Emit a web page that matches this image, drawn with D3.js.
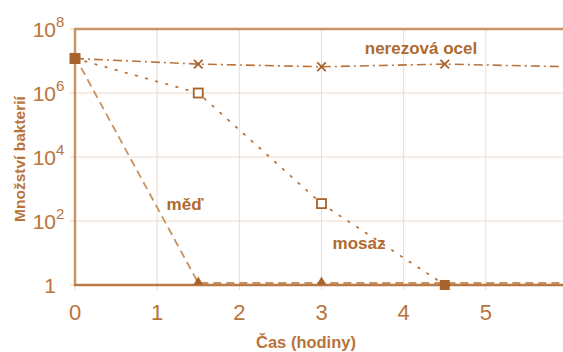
<!DOCTYPE html>
<html lang="cs">
<head>
<meta charset="UTF-8" />
<title>Množství bakterií v čase</title>
<script src="https://d3js.org/d3.v7.min.js"></script>
<style>
  body { margin: 0; background: #fff; }
  svg text { font-family: "Liberation Sans", Arial, sans-serif; }
</style>
</head>
<body>
<svg id="chart" width="563" height="352"></svg>
<script>
// data
const time = [0, 1.5, 3, 4.5, 6];
const ocel = [1.2e7, 8e6, 6.6e6, 8e6, 6.6e6];   // nerezová ocel
const mosaz = [1.2e7, 1e6, 350, 1, 1];
const med = [1.2e7, 1, 1, 1, 1];                // měď
const xTicks = [0, 1, 2, 3, 4, 5];
const yTicks = [1, 1e2, 1e4, 1e6, 1e8];
const yExp = ['', '2', '4', '6', '8'];

const brown = '#b8743a', axisC = '#c99466', gridC = '#eddac8', markC = '#a8622a';

const svg = d3.select('#chart');
const x = d3.scaleLinear().domain([0, 6]).range([75, 568]);
const y = d3.scaleLog().domain([1, 1e8]).range([285, 29]);

svg.append('clipPath').attr('id', 'clip')
  .append('rect').attr('x', 60).attr('y', 10).attr('width', 503).attr('height', 290);

// grid
svg.selectAll('.gx').data(xTicks.slice(1)).join('line')
  .attr('x1', d => x(d)).attr('x2', d => x(d)).attr('y1', 29).attr('y2', 290)
  .attr('stroke', gridC).attr('stroke-width', 1);
svg.selectAll('.gy').data(yTicks.slice(1, 4)).join('line')
  .attr('x1', 70).attr('x2', 563).attr('y1', d => y(d)).attr('y2', d => y(d))
  .attr('stroke', gridC).attr('stroke-width', 1.2);
// tick stubs
svg.selectAll('.ty').data([1, 1e8]).join('line')
  .attr('x1', 70).attr('x2', 75).attr('y1', d => y(d)).attr('y2', d => y(d))
  .attr('stroke', gridC).attr('stroke-width', 1.2);
svg.append('line').attr('x1', x(0)).attr('x2', x(0)).attr('y1', 285).attr('y2', 290)
  .attr('stroke', gridC);

// frame
svg.append('line').attr('x1', 74).attr('x2', 563).attr('y1', 29).attr('y2', 29)
  .attr('stroke', axisC).attr('stroke-width', 2.5);
svg.append('line').attr('x1', 75).attr('x2', 75).attr('y1', 28).attr('y2', 286)
  .attr('stroke', axisC).attr('stroke-width', 2.5);
svg.append('line').attr('x1', 74).attr('x2', 563).attr('y1', 285).attr('y2', 285)
  .attr('stroke', '#b87a48').attr('stroke-width', 2.5);

// tick labels
svg.selectAll('.xl').data(xTicks).join('text')
  .attr('x', d => x(d)).attr('y', 320).attr('text-anchor', 'middle')
  .attr('font-size', 22).attr('font-weight', 300).attr('fill', brown)
  .attr('font-family', '"DejaVu Sans", sans-serif')
  .text(d => d);
const yl = svg.selectAll('.yl').data(yTicks).join('text')
  .attr('x', 56).attr('y', d => y(d) + 8).attr('text-anchor', 'end')
  .attr('font-size', 21).attr('fill', brown)
  .attr('font-family', '"DejaVu Sans", sans-serif');
yl.text(d => d === 1 ? '1' : '10');
svg.selectAll('.ye').data(yTicks).join('text')
  .attr('x', 56).attr('y', d => y(d) - 2)
  .attr('font-size', 15).attr('fill', brown)
  .attr('font-family', '"DejaVu Sans", sans-serif')
  .text((d, i) => yExp[i]);

// axis titles
svg.append('text').attr('x', 306).attr('y', 348).attr('text-anchor', 'middle')
  .attr('font-size', 16.5).attr('font-weight', 'bold').attr('fill', brown).text('Čas (hodiny)');
svg.append('text').attr('transform', 'translate(25,159) rotate(-90)').attr('text-anchor', 'middle')
  .attr('font-size', 15.5).attr('font-weight', 'bold').attr('fill', brown).text('Množství bakterií');

// lines
const line = d3.line().x((d, i) => x(time[i])).y(d => y(d));
const g = svg.append('g').attr('clip-path', 'url(#clip)');
g.append('path').datum(ocel).attr('d', line).attr('fill', 'none')
  .attr('stroke', brown).attr('stroke-width', 1.6).attr('stroke-dasharray', '9,4,2,4');
g.append('path').datum(mosaz).attr('d', line).attr('fill', 'none')
  .attr('stroke', brown).attr('stroke-width', 1.8).attr('stroke-dasharray', '1.5,9')
  .attr('stroke-linecap', 'round');
g.append('path').datum(med).attr('d', line).attr('fill', 'none')
  .attr('transform', 'translate(0,-2)')
  .attr('stroke', '#c8905c').attr('stroke-width', 1.8).attr('stroke-dasharray', '8,5');

// markers
const cross = d3.symbol().type(d3.symbolX).size(50);
svg.selectAll('.mo').data(ocel.slice(1, 4)).join('path')
  .attr('transform', (d, i) => `translate(${x(time[i + 1])},${y(d)})`)
  .attr('d', cross).attr('fill', 'none').attr('stroke', markC).attr('stroke-width', 1.8);
svg.selectAll('.mm').data(mosaz.slice(1, 3)).join('rect')
  .attr('x', (d, i) => x(time[i + 1]) - 4.5).attr('y', d => y(d) - 4.5)
  .attr('width', 9).attr('height', 9).attr('fill', '#fff')
  .attr('stroke', markC).attr('stroke-width', 1.8);
const tri = d3.symbol().type(d3.symbolTriangle).size(40);
svg.selectAll('.mt').data(med.slice(1, 3)).join('path')
  .attr('transform', (d, i) => `translate(${x(time[i + 1])},${y(d) - 3})`)
  .attr('d', tri).attr('fill', markC);
svg.append('rect').attr('x', x(time[3]) - 5).attr('y', y(mosaz[3]) - 5)
  .attr('width', 10).attr('height', 10).attr('fill', markC);
svg.append('rect').attr('x', x(time[0]) - 5.5).attr('y', y(ocel[0]) - 5.5)
  .attr('width', 11).attr('height', 11).attr('fill', markC);

// series labels
const lab = [['nerezová ocel', 421, 54], ['měď', 185, 210], ['mosaz', 359, 249]];
svg.selectAll('.sl').data(lab).join('text')
  .attr('x', d => d[1]).attr('y', d => d[2]).attr('text-anchor', 'middle')
  .attr('font-size', 17).attr('font-weight', 'bold').attr('fill', '#b06a2c')
  .text(d => d[0]);
</script>
</body>
</html>
